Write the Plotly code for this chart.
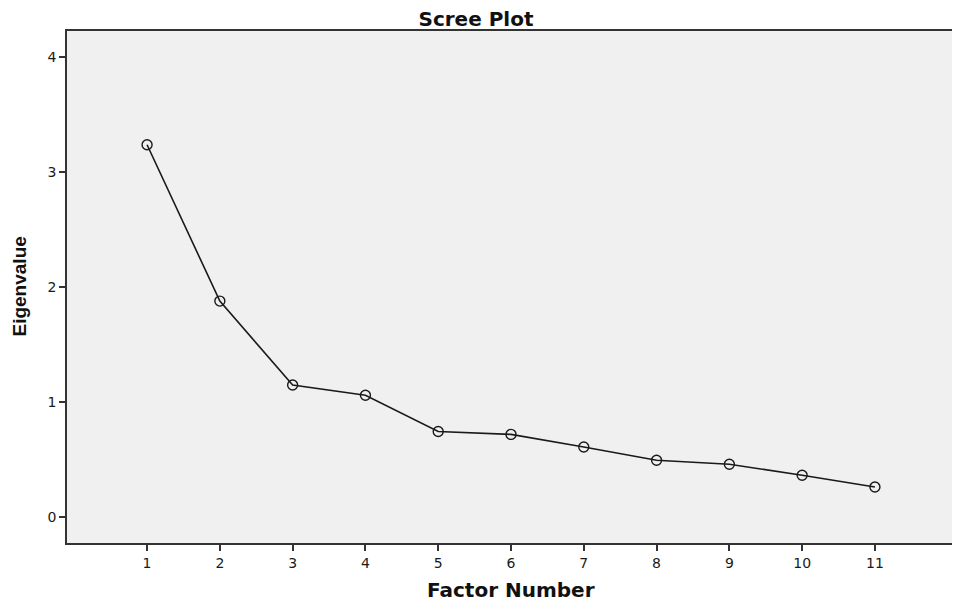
import plotly.graph_objects as go

# Scree plot values
factor_number = [1, 2, 3, 4, 5, 6, 7, 8, 9, 10, 11]
eigenvalues = [3.24, 1.88, 1.15, 1.06, 0.745, 0.72, 0.61, 0.495, 0.46, 0.365, 0.262]
x_ticks = list(range(1, 12))
y_ticks = [0, 1, 2, 3, 4]

WIDE = "DejaVu Sans, Verdana, sans-serif"
NARROW = "Liberation Sans, Arial, sans-serif"

# the page body keeps its default 8px margin, so the figure is made
# 8px smaller each way to fit the 960x605 window
FIG_W, FIG_H = 952, 597
PLOT_W, PLOT_H = 888, 512

fig = go.Figure()

fig.add_trace(go.Scatter(
    x=factor_number,
    y=eigenvalues,
    mode="lines+markers",
    line=dict(color="#1a1a1a", width=1.6),
    marker=dict(symbol="circle-open", size=10, color="#1a1a1a",
                line=dict(width=1.4)),
    showlegend=False,
    hoverinfo="x+y"
))

axis_style = dict(
    automargin=False,
    showgrid=False,
    zeroline=False,
    showline=True,
    linecolor="#333333",
    linewidth=1.5,
    mirror=True,
    ticks="outside",
    ticklen=6,
    tickwidth=1.5,
    tickcolor="#333333",
    tickfont=dict(family=WIDE, size=14, color="#1a1a1a"),
)

fig.update_layout(
    template="none",
    width=FIG_W,
    height=FIG_H,
    paper_bgcolor="white",
    plot_bgcolor="#f0f0f0",
    margin=dict(l=59, r=FIG_W - 59 - PLOT_W, t=23, b=FIG_H - 23 - PLOT_H, pad=0),
    title=dict(
        text="<b>Scree Plot</b>",
        x=468 / FIG_W, xanchor="center",
        y=1 - 4 / FIG_H, yanchor="top",
        font=dict(family=WIDE, size=20, color="#111111"),
    ),
    xaxis=dict(axis_style, range=[-0.1, 12.1], tickvals=x_ticks),
    yaxis=dict(axis_style, range=[-0.225, 4.23], tickvals=y_ticks),
)

# axis titles placed as annotations so they sit where the reference has them
fig.add_annotation(
    text="<b>Factor Number</b>", xref="paper", yref="paper",
    x=0.5, y=-46.5 / PLOT_H, xanchor="center", yanchor="middle",
    showarrow=False, font=dict(family=WIDE, size=20, color="#111111"),
)
fig.add_annotation(
    text="<b>Eigenvalue</b>", xref="paper", yref="paper",
    x=-48.5 / PLOT_W, y=0.5, xanchor="center", yanchor="middle", textangle=-90,
    showarrow=False, font=dict(family=NARROW, size=19, color="#111111"),
)

fig.write_html("out.html")
